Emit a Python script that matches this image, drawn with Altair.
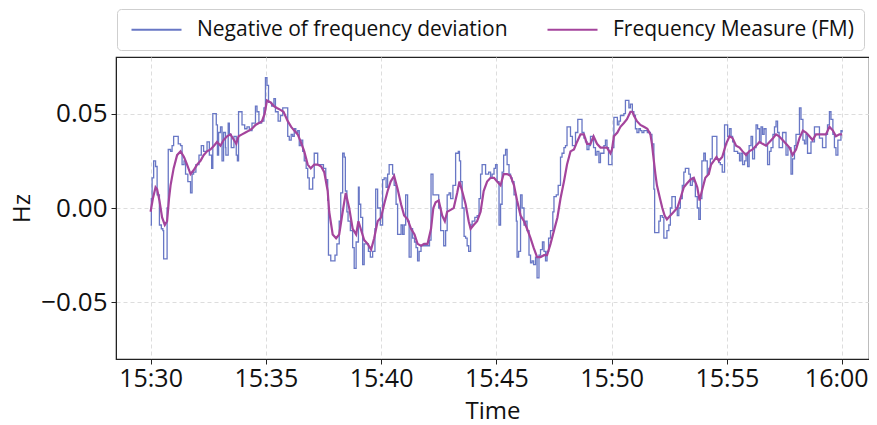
import altair as alt
import pandas as pd

# ---- data (minutes after 15:30, Hz) ----
dev_min = [
    0.00, 0.04, 0.07, 0.14, 0.22, 0.29, 0.39, 0.48, 0.54, 0.58,
    0.72, 0.77, 0.87, 0.94, 1.01, 1.20, 1.30, 1.37, 1.45, 1.52,
    1.63, 1.74, 1.81, 1.88, 1.98, 2.10, 2.21, 2.31, 2.46, 2.56,
    2.65, 2.70, 2.85, 2.91, 2.96, 3.04, 3.11, 3.18, 3.25, 3.28,
    3.37, 3.43, 3.51, 3.62, 3.72, 3.77, 3.83, 3.98, 4.09, 4.19,
    4.29, 4.41, 4.55, 4.63, 4.70, 4.82, 4.92, 4.99, 5.06, 5.13,
    5.25, 5.35, 5.42, 5.54, 5.64, 5.74,
    5.88, 5.95, 6.02, 6.10, 6.17, 6.24, 6.31, 6.39, 6.46, 6.53,
    6.60, 6.67, 6.75, 6.82, 6.89, 7.04, 7.11, 7.25, 7.51, 7.61,
    7.69, 7.72, 7.83, 8.00, 8.09, 8.19, 8.26, 8.34, 8.41, 8.45,
    8.53, 8.58, 8.67, 8.77, 8.84, 8.92, 9.02, 9.06, 9.13, 9.20,
    9.28, 9.45, 9.54, 9.64, 9.74, 9.78, 9.86, 9.97, 10.07, 10.14,
    10.22, 10.29, 10.36, 10.51, 10.58, 10.65, 10.72, 10.87, 10.94, 11.01,
    11.08, 11.16, 11.23, 11.30, 11.37, 11.45, 11.52, 11.59, 11.66, 11.74,
    12.10, 12.17,
    12.25, 12.51, 12.59, 12.73, 12.80, 12.87, 12.95, 13.02, 13.12, 13.24,
    13.35, 13.41, 13.45, 13.52, 13.60, 13.67, 13.74, 13.81, 13.89, 13.96,
    14.07, 14.18, 14.25, 14.32, 14.39, 14.54, 14.68, 14.75, 14.83, 14.90,
    14.97, 15.04, 15.12, 15.19, 15.26, 15.33, 15.40, 15.48, 15.55, 15.62,
    15.69, 15.77, 15.87, 15.91, 15.98, 16.06, 16.13, 16.20, 16.27, 16.34,
    16.42, 16.49, 16.56, 16.63, 16.71, 16.78, 16.85, 16.92, 17.00, 17.07,
    17.14, 17.21, 17.28, 17.36, 17.46, 17.50, 17.60, 17.69, 17.79, 17.86,
    17.94, 18.01, 18.08, 18.22, 18.30, 18.44, 18.54,
    18.73, 18.80, 18.87, 18.94, 19.02, 19.09, 19.23, 19.31, 19.38, 19.45,
    19.52, 19.67, 19.74, 19.81, 19.88, 20.03, 20.10, 20.25, 20.32, 20.39,
    20.54, 20.61, 20.75, 20.82, 20.90, 20.97, 21.04, 21.11, 21.19, 21.26,
    21.33, 21.40, 21.55, 21.69, 21.76, 21.84, 21.88, 22.05, 22.13, 22.20,
    22.27, 22.41, 22.49, 22.56, 22.63, 22.78, 22.85, 22.92, 22.99, 23.07,
    23.14, 23.21, 23.36, 23.43, 23.50, 23.57, 23.64, 23.72, 23.79, 23.86,
    23.93, 24.01, 24.08, 24.15, 24.22, 24.29, 24.37, 24.58, 24.66, 24.73,
    24.80,
    24.90, 25.04, 25.12, 25.19, 25.26, 25.33, 25.48, 25.55, 25.62, 25.69,
    25.77, 25.84, 25.91, 25.98, 26.06, 26.13, 26.20, 26.27, 26.34, 26.42,
    26.49, 26.56, 26.63, 26.71, 26.78, 26.85, 26.92, 27.00, 27.07, 27.14,
    27.21, 27.28, 27.43, 27.57, 27.65, 27.79, 27.86, 27.94, 28.01, 28.15,
    28.22, 28.30, 28.37, 28.44, 28.51, 28.66, 28.80, 29.02, 29.16, 29.31,
    29.38, 29.45, 29.53, 29.60, 29.67, 29.74, 29.82, 29.96, 30.00,
]
dev_hz = [
    -0.009, 0.005, 0.016, 0.025, 0.022, 0.007, -0.009, -0.011, -0.012, -0.027,
    0.000, 0.031, 0.030, 0.033, 0.038, 0.034, 0.033, 0.023, 0.025, 0.018,
    0.014, 0.008, 0.018, 0.019, 0.023, 0.028, 0.033, 0.030, 0.035, 0.028,
    0.021, 0.050, 0.044, 0.028, 0.040, 0.043, 0.025, 0.040, 0.032, 0.028,
    0.045, 0.039, 0.032, 0.038, 0.028, 0.025, 0.051, 0.044, 0.042, 0.043,
    0.041, 0.045, 0.054, 0.051, 0.045, 0.046, 0.053, 0.069, 0.065, 0.056,
    0.054, 0.058, 0.051, 0.046, 0.049, 0.053,
    0.053, 0.038, 0.036, 0.039, 0.038, 0.042, 0.040, 0.041, 0.033, 0.036,
    0.030, 0.025, 0.021, 0.016, 0.010, 0.016, 0.029, 0.023, 0.021, 0.015,
    0.004, -0.025, -0.028, -0.025, -0.019, -0.007, 0.008, 0.029, 0.027, 0.009,
    -0.002, -0.007, -0.012, -0.021, -0.032, -0.018, 0.011, 0.002, -0.005, -0.030,
    -0.019, -0.023, -0.026, -0.023, -0.011, 0.010, 0.000, -0.009, 0.015, 0.016,
    0.011, 0.018, 0.023, 0.018, 0.012, 0.002, -0.014, -0.009, -0.014, -0.009,
    0.007, -0.007, -0.026, -0.011, -0.016, -0.018, -0.021, -0.028, -0.023, -0.020,
    -0.017, 0.018,
    0.007, 0.000, -0.012, -0.020, -0.012, 0.007, 0.008, 0.005, 0.012, 0.029,
    0.030, 0.025, 0.014, 0.000, -0.015, -0.016, -0.020, -0.023, -0.009, -0.007,
    -0.005, -0.004, 0.005, 0.018, 0.023, 0.018, 0.019, 0.016, 0.018, 0.021,
    0.023, 0.014, -0.009, 0.002, 0.019, 0.028, 0.031, 0.023, 0.018, 0.016,
    0.014, 0.007, -0.007, -0.026, -0.023, 0.007, 0.000, -0.009, -0.007, -0.012,
    -0.025, -0.029, -0.028, -0.030, -0.026, -0.037, -0.025, -0.022, -0.018, -0.023,
    -0.028, -0.023, -0.016, -0.012, -0.002, 0.006, 0.007, 0.012, 0.027, 0.029,
    0.032, 0.033, 0.043, 0.038, 0.033, 0.040, 0.047,
    0.040, 0.037, 0.035, 0.031, 0.033, 0.038, 0.032, 0.028, 0.030, 0.024,
    0.029, 0.033, 0.036, 0.032, 0.023, 0.032, 0.048, 0.044, 0.046, 0.049,
    0.050, 0.057, 0.053, 0.055, 0.051, 0.049, 0.042, 0.040, 0.042, 0.041,
    0.040, 0.041, 0.040, 0.039, 0.034, 0.010, -0.013, -0.007, -0.004, -0.005,
    -0.016, -0.012, -0.009, 0.000, 0.006, 0.000, -0.004, 0.000, 0.005, 0.012,
    0.019, 0.021, 0.018, 0.012, 0.016, 0.014, 0.006, 0.000, -0.006, 0.005,
    0.025, 0.029, 0.025, 0.018, 0.021, 0.026, 0.038, 0.026, 0.024, 0.023,
    0.019,
    0.044, 0.038, 0.042, 0.038, 0.035, 0.030, 0.029, 0.025, 0.029, 0.023,
    0.025, 0.029, 0.022, 0.033, 0.038, 0.026, 0.032, 0.044, 0.042, 0.035,
    0.043, 0.039, 0.042, 0.033, 0.023, 0.030, 0.032, 0.039, 0.043, 0.046,
    0.040, 0.032, 0.040, 0.028, 0.032, 0.018, 0.026, 0.033, 0.039, 0.053,
    0.047, 0.036, 0.034, 0.039, 0.029, 0.035, 0.043, 0.037, 0.032, 0.039,
    0.044, 0.051, 0.047, 0.039, 0.032, 0.028, 0.036, 0.041, 0.040,
]
fm_min = [
    0.00, 0.10, 0.22, 0.29, 0.39, 0.51, 0.62, 0.72, 0.80, 0.87,
    1.01, 1.16, 1.30, 1.45, 1.59, 1.74, 1.88, 2.02, 2.17, 2.31,
    2.46, 2.60, 2.75, 2.89, 3.04, 3.18, 3.33, 3.47, 3.62, 3.72,
    3.83, 3.98, 4.12, 4.27, 4.41, 4.55, 4.70, 4.84, 4.96, 5.06,
    5.21, 5.35, 5.49, 5.64, 5.78,
    5.95, 6.10, 6.24, 6.39, 6.53, 6.67, 6.82, 6.96, 7.11, 7.25,
    7.40, 7.54, 7.69, 7.76, 7.90, 8.05, 8.19, 8.34, 8.48, 8.63,
    8.77, 8.92, 9.02, 9.13, 9.28, 9.42, 9.57, 9.71, 9.86, 10.00,
    10.14, 10.29, 10.43, 10.58, 10.72, 10.87, 11.01, 11.16, 11.30, 11.45,
    11.59, 11.74, 11.88, 12.02, 12.17,
    12.27, 12.37, 12.51, 12.66, 12.77, 12.87, 13.02, 13.16, 13.31, 13.41,
    13.53, 13.67, 13.81, 13.89, 14.03, 14.18, 14.32, 14.46, 14.61, 14.75,
    14.90, 15.04, 15.19, 15.33, 15.48, 15.62, 15.77, 15.91, 16.06, 16.20,
    16.34, 16.49, 16.63, 16.78, 16.92, 17.07, 17.21, 17.36, 17.50, 17.65,
    17.79, 17.94, 18.08, 18.22, 18.37, 18.51,
    18.66, 18.80, 18.94, 19.09, 19.23, 19.38, 19.52, 19.67, 19.81, 19.96,
    20.03, 20.10, 20.25, 20.39, 20.54, 20.68, 20.82, 20.90, 20.97, 21.11,
    21.26, 21.40, 21.55, 21.69, 21.76, 21.84, 21.91, 21.98, 22.10, 22.20,
    22.30, 22.41, 22.56, 22.70, 22.85, 22.99, 23.14, 23.28, 23.43, 23.57,
    23.72, 23.83, 23.93, 24.08, 24.22, 24.32, 24.44, 24.55, 24.66, 24.80,
    24.97, 25.12, 25.26, 25.40, 25.55, 25.69, 25.84, 25.98, 26.13, 26.27,
    26.42, 26.56, 26.71, 26.85, 27.00, 27.14, 27.28, 27.43, 27.57, 27.72,
    27.86, 28.01, 28.15, 28.30, 28.44, 28.59, 28.73, 28.88, 29.02, 29.16,
    29.31, 29.45, 29.60, 29.74, 29.89, 30.00,
]
fm_hz = [
    -0.002, 0.005, 0.011, 0.010, 0.004, -0.005, -0.009, -0.007, 0.005, 0.012,
    0.021, 0.028, 0.030, 0.027, 0.023, 0.018, 0.020, 0.023, 0.025, 0.028,
    0.030, 0.031, 0.033, 0.035, 0.033, 0.036, 0.038, 0.039, 0.036, 0.034,
    0.038, 0.039, 0.040, 0.041, 0.042, 0.044, 0.045, 0.046, 0.050, 0.057,
    0.056, 0.054, 0.053, 0.052, 0.051,
    0.046, 0.043, 0.041, 0.039, 0.035, 0.030, 0.023, 0.021, 0.023, 0.023,
    0.022, 0.019, 0.009, -0.002, -0.014, -0.016, -0.014, -0.002, 0.008, 0.000,
    -0.011, -0.014, -0.007, -0.011, -0.017, -0.019, -0.022, -0.016, -0.007, -0.005,
    0.002, 0.009, 0.014, 0.017, 0.010, 0.002, -0.004, -0.006, -0.011, -0.014,
    -0.019, -0.020, -0.019, -0.019, -0.011,
    0.000, 0.003, 0.004, -0.004, -0.007, -0.002, -0.001, 0.000, 0.008, 0.014,
    0.009, 0.002, -0.007, -0.011, -0.009, -0.007, -0.002, 0.009, 0.014, 0.016,
    0.016, 0.014, 0.012, 0.018, 0.018, 0.017, 0.012, 0.004, -0.004, -0.007,
    -0.011, -0.016, -0.021, -0.026, -0.026, -0.025, -0.025, -0.019, -0.012, -0.005,
    0.005, 0.014, 0.023, 0.030, 0.031, 0.035,
    0.039, 0.039, 0.034, 0.034, 0.038, 0.034, 0.032, 0.032, 0.032, 0.029,
    0.031, 0.038, 0.040, 0.043, 0.045, 0.047, 0.051, 0.051, 0.049, 0.046,
    0.044, 0.043, 0.042, 0.039, 0.034, 0.025, 0.018, 0.012, 0.005, 0.000,
    -0.004, -0.006, -0.004, -0.002, 0.000, 0.005, 0.011, 0.013, 0.015, 0.016,
    0.011, 0.004, 0.009, 0.016, 0.018, 0.023, 0.025, 0.027, 0.025, 0.027,
    0.034, 0.038, 0.037, 0.033, 0.032, 0.030, 0.028, 0.030, 0.031, 0.033,
    0.035, 0.034, 0.033, 0.035, 0.037, 0.039, 0.038, 0.036, 0.034, 0.032,
    0.028, 0.031, 0.037, 0.041, 0.040, 0.038, 0.036, 0.039, 0.039, 0.039,
    0.039, 0.043, 0.041, 0.038, 0.039, 0.039,
]
series_names = ["Negative of frequency deviation", "Frequency Measure (FM)"]
series_colors = ["#6877c5", "#a4449c"]
y_ticks = [-0.05, 0.0, 0.05]
x_tick_minutes = [0, 5, 10, 15, 20, 25, 30]

assert len(dev_min) == len(dev_hz), (len(dev_min), len(dev_hz))
assert len(fm_min) == len(fm_hz), (len(fm_min), len(fm_hz))

FONT = "Open Sans"
base = pd.Timestamp("2021-01-01 15:30:00")


def frame(mins, vals, name):
    return pd.DataFrame({
        "time": (base + pd.to_timedelta(pd.Series(mins), unit="m")).dt.strftime("%Y-%m-%dT%H:%M:%S"),
        "hz": vals,
        "series": name,
    })


dev_df = frame(dev_min, dev_hz, series_names[0])
fm_df = frame(fm_min, fm_hz, series_names[1])


def dt(minutes_after):
    total = 30 * 60 + int(round(minutes_after * 60))
    return alt.DateTime(year=2021, month=1, date=1, hours=15 + total // 3600,
                        minutes=(total % 3600) // 60, seconds=total % 60)


x_enc = alt.X(
    "time:T",
    scale=alt.Scale(domain=[dt(-1.5), dt(31.17)], nice=False),
    axis=alt.Axis(
        title="Time", format="%H:%M", values=[dt(m) for m in x_tick_minutes],
        labelOverlap=False, labelFlush=30, labelFlushOffset=26, grid=True,
    ),
)
y_enc = alt.Y(
    "hz:Q",
    scale=alt.Scale(domain=[-0.08, 0.08], nice=False, zero=False),
    axis=alt.Axis(title="Hz", values=y_ticks, format=".2f", grid=True),
)
color_enc = alt.Color(
    "series:N",
    scale=alt.Scale(domain=series_names, range=series_colors),
    legend=alt.Legend(
        title=None, orient="none", legendX=1, legendY=-48, direction="horizontal",
        symbolType="M-5,0H5", symbolSize=100, symbolStrokeWidth=1.8,
        symbolOffset=19, labelOffset=30, labelFontSize=21, labelFont=FONT,
        labelColor="#111111", labelLimit=600, columnPadding=35, padding=10,
        strokeColor="#cfcfcf", cornerRadius=4, fillColor="white",
    ),
)

dev_line = alt.Chart(dev_df).mark_line(interpolate="step-after", strokeWidth=1.3).encode(
    x=x_enc, y=y_enc, color=color_enc
)
fm_line = alt.Chart(fm_df).mark_line(strokeWidth=2.2).encode(
    x=x_enc, y=y_enc, color=color_enc
)

chart = (
    alt.layer(dev_line, fm_line)
    .properties(
        width=753, height=302,
        padding={"left": 108, "top": 49, "right": 0, "bottom": 66},
        autosize=alt.AutoSizeParams(type="none"),
        background="white",
    )
    .configure_view(stroke="#222222", strokeWidth=1.2)
    .configure_axis(
        labelFont=FONT, labelFontSize=26, labelColor="#111111",
        titleFont=FONT, titleFontSize=24, titleColor="#111111", titleFontWeight="normal",
        domainColor="#222222", tickColor="#222222", tickSize=5, tickWidth=1,
        gridColor="#dddddd", gridDash=[4, 3], gridWidth=1,
    )
    .configure_axisX(labelFontSize=25, labelPadding=2, titlePadding=8)
    .configure_axisY(labelPadding=4, titlePadding=6)
)

chart.save("out.html", embed_options={"renderer": "svg", "actions": False})
